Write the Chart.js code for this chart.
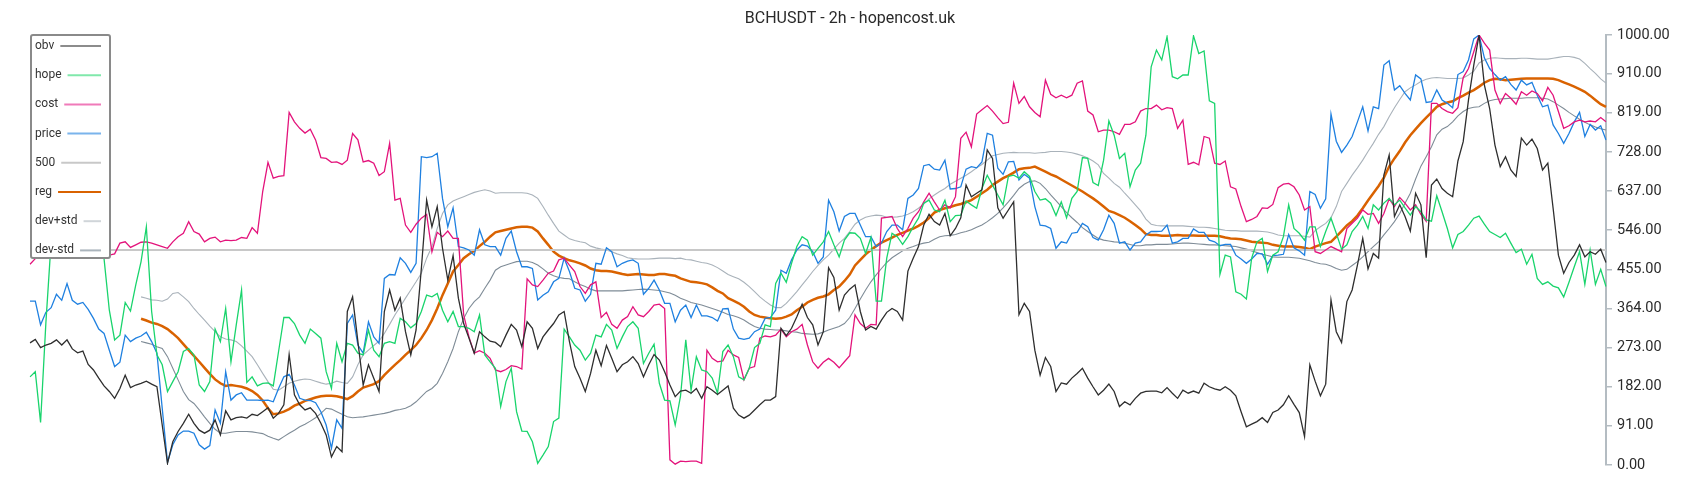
<!DOCTYPE html>
<html><head><meta charset="utf-8">
<script src="https://cdn.jsdelivr.net/npm/chart.js@4.4.0/dist/chart.umd.min.js"></script>
<style>html,body{margin:0;padding:0;background:#fff;}canvas{display:block;}</style>
</head><body>
<canvas id="c" width="1700" height="500"></canvas>
<script>
const chartTitle = 'BCHUSDT - 2h - hopencost.uk';
const seriesNames = ['obv', 'hope', 'cost', 'price', '500', 'reg', 'dev+std', 'dev-std'];
const yTicks = [0, 91, 182, 273, 364, 455, 546, 637, 728, 819, 910, 1000];
const refLevel = 500;

const obv = [
284,292,273,279,283,291,279,291,270,261,
265,234,221,202,184,171,155,178,209,180,
186,190,195,188,182,93,4,54,78,97,
118,97,81,74,81,105,70,126,105,110,
112,109,118,115,124,133,109,120,140,257,
163,140,128,133,120,97,70,19,43,31,
357,391,287,186,233,202,171,357,407,360,
388,310,256,314,457,616,554,601,504,430,
487,388,329,295,260,310,298,288,285,275,
302,327,314,275,333,318,271,298,314,329,
349,357,287,229,202,171,213,267,231,278,
248,217,233,240,252,236,205,233,257,244,
217,186,159,172,174,167,178,155,182,174,
164,174,184,132,116,109,116,128,140,151,
151,159,318,301,318,345,374,343,326,279,
310,459,436,360,395,409,419,357,314,322,
316,337,355,364,357,337,451,481,508,558,
583,566,558,585,533,550,575,651,624,632,
640,733,713,598,574,593,612,350,376,357,
267,209,250,229,171,191,188,202,213,225,
202,182,163,174,188,171,136,147,140,155,
167,171,172,172,168,180,167,155,174,167,
172,167,190,182,177,174,182,174,161,124,
89,95,101,110,99,122,128,140,161,141,
122,66,233,195,161,188,384,310,285,380,
407,465,527,456,492,481,674,721,578,605,
578,544,632,605,482,651,665,643,632,624,
707,752,849,930,1000,884,829,744,694,717,
686,671,760,744,758,736,686,702,597,488,
446,471,488,512,484,496,490,502,471];

const hope = [
205,217,99,330,520,560,590,575,600,585,
610,590,570,530,480,360,291,302,378,358,
419,473,554,357,256,233,171,194,217,264,
271,256,186,171,194,316,287,364,240,326,
407,192,205,184,190,191,184,264,343,343,
329,302,283,316,306,295,217,178,283,240,
283,279,260,256,314,267,252,283,287,283,
341,333,319,329,357,395,391,399,360,333,
357,322,322,318,310,349,256,240,225,136,
194,225,124,79,78,54,4,23,43,101,
109,316,298,279,267,244,260,302,298,327,
314,271,298,322,333,318,236,260,281,190,
151,149,93,160,291,174,252,221,217,202,
167,264,279,252,205,198,225,273,283,326,
322,422,446,425,469,508,531,523,488,504,
519,543,512,484,523,540,539,527,492,529,
381,381,481,539,531,513,531,554,574,609,
616,593,589,616,566,580,581,614,605,597,
643,674,651,628,605,671,674,667,682,671,
636,616,619,609,580,612,575,620,636,715,
713,657,650,709,800,767,713,725,647,686,
702,767,926,965,942,996,903,898,907,907,
998,957,963,847,841,443,488,484,403,397,
386,481,519,527,450,488,496,531,605,550,
539,523,554,554,508,543,574,539,502,512,
543,558,578,550,605,593,609,620,605,616,
598,581,601,589,570,567,626,589,550,505,
536,543,558,574,579,560,543,536,529,539,
516,494,502,467,490,434,420,426,416,412,
391,425,461,496,420,500,420,455,415];

const cost = [
467,480,495,505,500,510,515,505,500,510,
520,512,505,498,492,488,491,516,519,506,
512,518,519,516,512,508,504,519,531,539,
566,543,537,519,527,530,519,523,522,523,
529,527,552,539,636,704,667,671,673,820,
798,783,772,781,756,715,713,704,705,699,
709,771,756,705,708,702,673,682,748,616,
620,558,541,560,574,583,496,541,531,544,
527,527,349,298,260,266,260,248,221,217,
222,231,229,223,433,419,415,430,446,451,
477,481,465,450,415,399,419,426,343,355,
327,318,337,345,368,349,345,357,372,374,
364,12,2,9,8,9,9,4,267,248,
240,242,267,256,250,198,225,229,295,300,
298,302,316,298,310,316,327,279,240,225,
239,248,239,226,240,254,349,329,318,327,
326,574,576,578,550,531,550,574,589,612,
632,612,593,605,598,624,760,774,740,816,
826,836,823,808,794,797,888,841,857,833,
820,810,895,862,854,860,854,860,888,893,
823,814,775,779,779,775,769,792,792,798,
823,829,829,837,826,831,829,783,802,699,
704,698,764,760,702,699,707,647,642,601,
566,571,578,598,597,606,645,653,655,647,
628,593,601,496,492,500,508,502,496,550,
562,574,593,583,585,562,585,619,601,622,
609,593,605,583,567,841,841,829,822,818,
831,901,922,961,1000,981,965,872,841,864,
853,839,868,860,870,864,847,878,860,822,
783,789,798,802,798,800,798,808,798];

const price = [
381,381,326,355,366,397,383,422,383,374,
378,362,341,316,306,267,229,239,302,287,
295,300,309,287,260,132,6,47,70,79,
79,74,47,37,45,128,97,217,151,163,
168,151,151,151,150,151,147,178,205,211,
186,155,151,150,145,124,93,39,105,85,
329,349,279,260,333,298,283,434,443,442,
482,469,448,469,717,715,717,725,620,554,
598,508,505,500,488,547,512,508,508,488,
527,544,496,461,461,457,384,395,403,426,
434,481,450,411,407,381,397,469,467,505,
496,461,469,474,477,469,397,411,430,407,
376,376,333,360,372,343,372,347,347,343,
335,363,364,316,295,292,295,310,316,341,
343,360,453,446,477,500,512,509,496,469,
484,616,589,544,578,585,585,558,531,531,
508,516,543,558,558,547,620,628,643,696,
699,688,686,709,642,643,647,688,694,691,
705,771,767,690,676,705,706,663,676,667,
601,558,556,550,504,519,516,539,541,562,
554,529,523,547,581,562,516,519,500,516,
519,535,543,543,544,558,516,519,527,527,
549,541,541,523,519,510,513,513,488,479,
469,479,492,491,467,487,488,490,536,505,
498,488,636,629,597,619,816,753,727,744,
764,798,833,777,833,829,930,940,872,882,
864,849,907,898,843,845,872,849,841,831,
908,915,942,991,1000,947,922,908,895,903,
885,872,895,884,890,860,833,837,791,771,
748,771,798,820,764,792,779,789,756];

const reg = [
null,null,null,null,null,null,null,null,null,null,
null,null,null,null,null,null,null,null,null,null,
null,340,336,331,328,323,316,306,295,281,
267,254,240,226,212,199,190,184,186,184,
182,178,172,163,150,132,118,120,124,130,
138,143,149,153,157,160,161,161,160,157,
153,160,171,180,184,188,195,209,221,233,
244,256,267,279,295,314,337,364,395,422,
450,465,481,490,498,509,519,531,541,544,
547,550,553,554,554,552,543,527,512,496,
487,481,476,473,469,464,457,453,451,451,
450,447,444,442,443,444,443,442,442,444,
444,442,440,434,430,426,425,423,420,413,
405,399,388,382,376,368,357,349,345,343,
341,340,341,345,350,360,368,378,384,389,
392,397,407,415,428,443,464,477,490,500,
509,517,523,529,535,540,545,550,556,564,
574,587,593,597,600,604,607,611,616,624,
632,640,651,659,667,673,680,688,690,691,
694,688,682,676,671,664,657,650,643,636,
628,620,611,601,591,587,581,575,567,558,
549,537,535,535,533,533,534,535,534,534,
534,533,533,533,533,532,529,527,526,525,
522,519,518,517,516,512,510,508,508,508,
507,505,502,508,512,516,519,531,544,557,
567,580,597,615,632,649,668,694,713,730,
750,767,781,795,808,820,833,839,843,846,
853,859,866,872,880,889,895,898,897,895,
896,897,898,899,899,899,899,899,898,895,
890,885,880,874,868,859,849,839,833];

const devPlus = [
null,null,null,null,null,null,null,null,null,null,
null,null,null,null,null,null,null,null,null,null,
null,391,388,384,383,381,386,399,401,391,
380,364,350,337,323,310,298,293,291,287,
277,265,252,233,213,194,176,174,182,190,
195,198,200,199,195,191,188,190,195,192,
190,205,233,256,267,278,288,306,327,349,
368,388,407,426,446,481,508,550,585,605,
614,619,624,629,634,637,640,637,632,633,
633,633,633,633,632,628,620,601,581,562,
544,535,526,522,519,517,509,505,502,500,
496,491,487,482,480,479,479,479,480,481,
481,481,480,481,478,477,474,471,469,465,
459,451,443,438,433,425,415,403,391,381,
372,366,366,376,389,403,419,434,450,464,
477,488,502,516,527,543,560,570,576,579,
581,580,576,576,577,579,583,589,597,607,
619,628,636,643,653,660,667,674,682,691,
699,709,719,722,725,726,727,726,726,726,
725,726,727,729,729,729,728,726,723,719,
714,707,698,678,667,655,646,632,619,605,
591,572,560,557,556,556,556,556,556,555,
554,553,553,552,550,548,546,545,545,544,
544,544,544,543,542,539,535,533,533,533,
533,532,530,545,554,562,575,601,636,655,
674,691,709,729,748,769,787,810,831,850,
868,877,884,892,897,900,901,900,899,899,
899,900,907,916,935,942,946,947,946,945,
945,945,946,946,945,944,944,944,946,948,
950,950,948,944,934,922,911,898,888];

const devMinus = [
null,null,null,null,null,null,null,null,null,null,
null,null,null,null,null,null,null,null,null,null,
null,287,284,281,275,271,252,225,198,171,
152,143,128,112,97,83,74,74,76,78,
78,78,77,75,73,67,62,58,66,74,
81,89,95,102,110,120,132,130,124,118,
112,110,111,112,114,116,118,120,123,127,
129,132,138,147,159,171,178,190,213,240,
271,310,341,364,380,391,411,430,453,461,
465,469,473,474,474,471,465,456,446,440,
436,434,433,426,420,415,409,405,405,405,
405,405,405,406,407,408,409,408,407,406,
403,400,395,388,383,378,375,372,368,364,
360,355,350,347,343,337,329,322,318,316,
315,314,314,312,310,309,306,305,304,305,
309,314,318,322,329,343,364,386,407,426,
442,457,471,482,490,498,504,508,513,516,
518,525,531,533,534,536,540,543,547,553,
558,566,575,585,598,612,627,643,653,659,
661,655,643,628,615,601,587,575,564,552,
543,535,527,523,521,519,518,516,513,510,
510,512,512,513,513,513,514,515,516,516,
515,514,513,512,512,511,510,509,508,505,
502,498,494,490,487,484,483,483,483,482,
481,478,475,471,468,467,463,457,453,455,
464,473,484,496,508,519,535,550,566,585,
609,632,665,695,717,740,768,781,787,798,
812,822,829,832,833,841,847,850,851,852,
853,853,853,854,854,854,853,851,845,837,
829,820,812,804,797,791,786,782,779];

const categories = obv.map((_, i) => i);
const refLine = categories.map(() => refLevel);

const lineColors = ['#2e2e2e', '#19d46c', '#e3137b', '#1f80e0', '#c8c8c8', '#d96200', '#a9b2ba', '#7f8c97'];
const legendColors = ['#8c8c8c', '#80e8ab', '#f07ab9', '#7ab4ec', '#c8c8c8', '#d96200', '#d0d5d9', '#aab4bc'];
const lineWidths = [1.3, 1.3, 1.3, 1.3, 2, 2.5, 1.1, 1.1];
const seriesData = [obv, hope, cost, price, refLine, reg, devPlus, devMinus];

Chart.defaults.font.family = 'Roboto';

const overlay = {
  id: 'overlay',
  afterDraw(chart) {
    const ctx = chart.ctx;
    ctx.save();
    ctx.fillStyle = '#2a2a2a';
    ctx.font = '16px Roboto';
    ctx.textAlign = 'center';
    ctx.textBaseline = 'middle';
    ctx.fillText(chartTitle, 850, 19);
    const bx = 31, by = 35, bw = 79, bh = 223;
    ctx.fillStyle = '#fff';
    ctx.fillRect(bx, by, bw, bh);
    ctx.strokeStyle = '#8a8a8a';
    ctx.lineWidth = 2;
    ctx.beginPath();
    if (ctx.roundRect) ctx.roundRect(bx, by, bw, bh, 2); else ctx.rect(bx, by, bw, bh);
    ctx.stroke();
    ctx.font = '12px Roboto';
    ctx.textAlign = 'left';
    seriesNames.forEach((name, k) => {
      const yy = 46 + k * 29.2;
      ctx.fillStyle = '#333';
      ctx.fillText(name, 35, yy);
      const w = ctx.measureText(name).width;
      ctx.strokeStyle = legendColors[k];
      ctx.lineWidth = 2;
      ctx.beginPath();
      ctx.moveTo(35 + w + 6, yy);
      ctx.lineTo(101, yy);
      ctx.stroke();
    });
    ctx.restore();
  }
};

new Chart(document.getElementById('c'), {
  type: 'line',
  data: {
    labels: categories,
    datasets: seriesNames.map((name, k) => ({
      label: name,
      data: seriesData[k],
      borderColor: lineColors[k],
      backgroundColor: lineColors[k],
      borderWidth: lineWidths[k],
      pointRadius: 0,
      pointHoverRadius: 0,
      tension: 0,
      fill: false
    }))
  },
  options: {
    responsive: false,
    devicePixelRatio: 1,
    animation: false,
    events: [],
    layout: { padding: { left: 30, top: 35, bottom: 35, right: 0 } },
    plugins: { legend: { display: false }, tooltip: { enabled: false }, title: { display: false } },
    scales: {
      x: { display: false },
      y: {
        position: 'right',
        min: 0,
        max: 1000,
        afterBuildTicks(scale) { scale.ticks = yTicks.map(v => ({ value: v })); },
        afterFit(scale) { scale.width = 94; },
        ticks: {
          color: '#2a2a2a',
          font: { size: 14.5, family: 'Roboto' },
          padding: 5,
          callback: v => Number(v).toFixed(2)
        },
        grid: { drawOnChartArea: false, drawTicks: true, tickLength: 6, color: '#b4bcc2', lineWidth: 1.5 },
        border: { display: true, color: '#b4bcc2', width: 2 }
      }
    }
  },
  plugins: [overlay]
});
</script>
</body></html>
